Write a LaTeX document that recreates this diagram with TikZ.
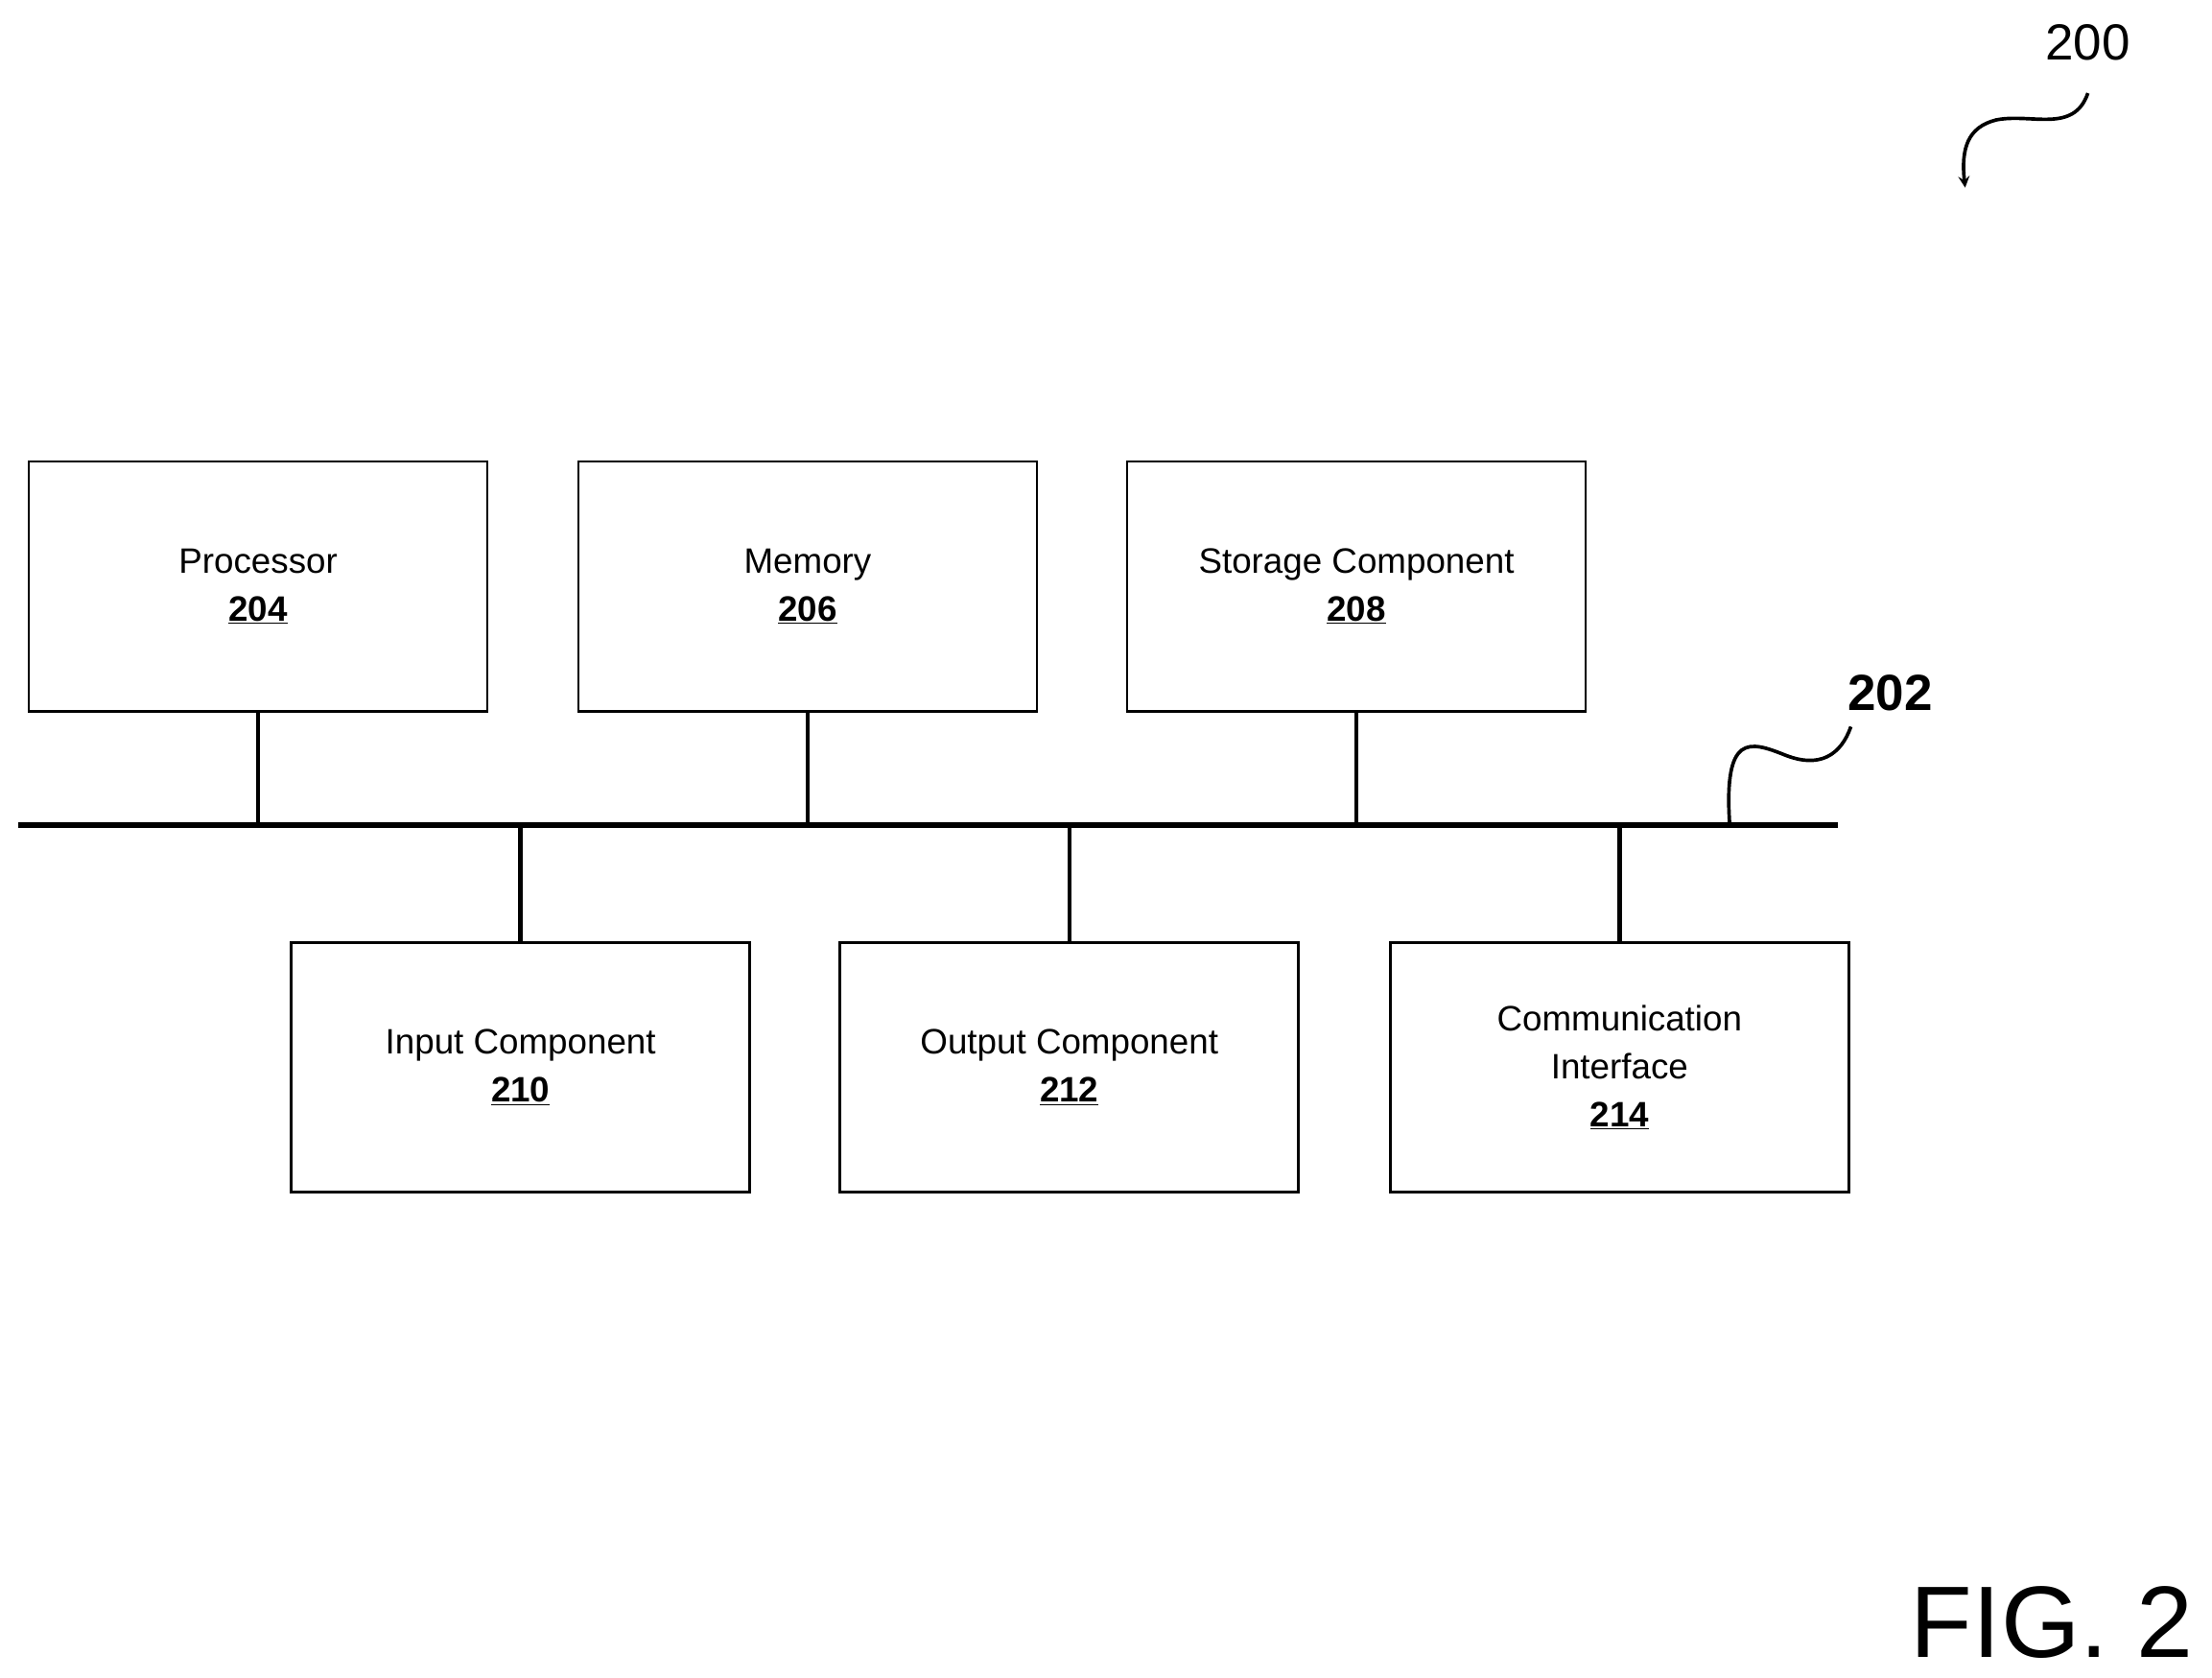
\documentclass[tikz,border=0pt]{standalone}
\usepackage{fontspec}
\setmainfont{Liberation Sans}
\begin{document}
\begin{tikzpicture}[x=1pt,y=-1pt,
  box/.style={draw,line width=1.8pt,minimum width=325pt,minimum height=177pt,align=center,font=\fontsize{25}{34}\selectfont,inner sep=0pt},
  conn/.style={line width=3pt}]
\useasboundingbox (0,0) rectangle (1568,1189);
\node[box] (p) at (183,415.5) {Processor\\\textbf{\underline{204}}};
\node[box] (m) at (572.5,415.5) {Memory\\\textbf{\underline{206}}};
\node[box] (s) at (961.5,415.5) {Storage Component\\\textbf{\underline{208}}};
\node[box] (i) at (369,756.5) {Input Component\\\textbf{\underline{210}}};
\node[box] (o) at (758,756.5) {Output Component\\\textbf{\underline{212}}};
\node[box] (c) at (1148,756.5) {Communication\\Interface\\\textbf{\underline{214}}};
\coordinate (b0) at (13,585); \coordinate (b1) at (1303,585);
\draw[line width=4pt] (b0) -- (b1);
\foreach \n in {p,m,s}{\draw[conn] (\n.south) -- (\n.south |- b0);}
\foreach \n in {i,o,c}{\draw[conn] (\n.north) -- (\n.north |- b0);}
\node[font=\bfseries\fontsize{36}{40}\selectfont] (l202) at (1340,491) {202};
\coordinate (w0) at (1226,583);
\draw[line width=2.5pt] (w0) .. controls (1222,520) and (1240,525) .. (1265,535) .. controls (1290,545) and (1305,535) .. (1312,515);
\node[font=\fontsize{36}{40}\selectfont] (l200) at (1480,30) {200};
\coordinate (w1) at (1480,66);
\draw[line width=2.5pt,-stealth] (w1) .. controls (1470,95) and (1440,80) .. (1415,85) .. controls (1395,90) and (1390,105) .. (1393,133);
\node[font=\fontsize{72}{80}\selectfont,anchor=east] (fig) at (1558,1150) {FIG. 2};
\end{tikzpicture}
\end{document}
